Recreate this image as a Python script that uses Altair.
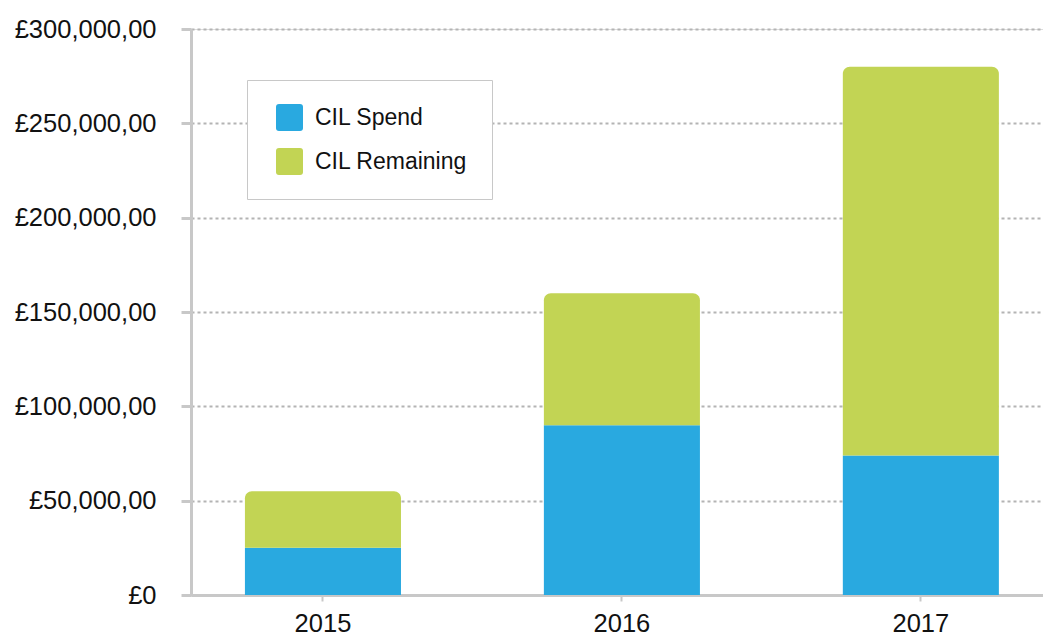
import altair as alt
import pandas as pd

years = ["2015", "2016", "2017"]
spend = [25000, 90000, 74000]
totals = [55000, 160000, 280000]
series_names = ["CIL Spend", "CIL Remaining"]
colors = ["#29A9E0", "#C2D454"]

rows = []
for yr, s, t in zip(years, spend, totals):
    rows.append({"year": yr, "series": "CIL Spend", "start": 0, "end": s})
    rows.append({"year": yr, "series": "CIL Remaining", "start": s, "end": t})
df = pd.DataFrame(rows)

FONT = "Liberation Sans"
ROUNDED_SQ = ("M-0.78,-1 H0.78 Q1,-1 1,-0.78 V0.78 Q1,1 0.78,1 H-0.78 "
              "Q-1,1 -1,0.78 V-0.78 Q-1,-1 -0.78,-1 Z")

x = alt.X("year:N", title=None,
          scale=alt.Scale(paddingInner=0.478, paddingOuter=0.164, align=0.55),
          axis=alt.Axis(labelAngle=0, labelFontSize=25.5, labelColor="#111", labelFont=FONT,
                        domainColor="#c8c8c8", domainWidth=3, tickColor="#c8c8c8",
                        tickWidth=2, tickSize=6, labelPadding=10, grid=False))
y = alt.Y("start:Q", title=None,
          scale=alt.Scale(domain=[0, 300000], nice=False),
          axis=alt.Axis(values=[0, 50000, 100000, 150000, 200000, 250000, 300000],
                        labelExpr="datum.value == 0 ? '£0' : '£' + format(datum.value, ',') + ',00'",
                        labelFontSize=25.5, labelColor="#111", labelFont=FONT,
                        domainColor="#c8c8c8", domainWidth=3, tickColor="#c8c8c8",
                        tickWidth=3, tickSize=10, labelPadding=25,
                        grid=True, gridColor="#b4b4b4", gridDash=[3, 3], gridWidth=2))
color = alt.Color("series:N", title=None,
                  scale=alt.Scale(domain=series_names, range=colors),
                  legend=alt.Legend(orient="none", legendX=56, legendY=51,
                                    padding=24, strokeColor="#c8c8c8", fillColor="white",
                                    symbolType=ROUNDED_SQ, symbolSize=729, symbolStrokeWidth=0,
                                    symbolOpacity=1, symbolOffset=5,
                                    labelFontSize=23, labelFont=FONT, labelColor="#111",
                                    labelOffset=12, rowPadding=17, labelLimit=400))

base = alt.Chart(df)
spend_layer = base.transform_filter("datum.series == 'CIL Spend'").mark_bar().encode(
    x=x, y=y, y2="end:Q", color=color)
rem_layer = base.transform_filter("datum.series == 'CIL Remaining'").mark_bar(
    cornerRadiusTopLeft=7, cornerRadiusTopRight=7).encode(
    x=x, y=y, y2="end:Q", color=color)

chart = alt.layer(spend_layer, rem_layer).properties(
    width=852, height=566,
    autosize=alt.AutoSizeParams(type="none"),
    padding={"left": 191, "top": 29, "right": 0, "bottom": 40},
).configure_view(stroke=None).configure(background="white")

chart.save("out.html", embed_options={"renderer": "svg", "actions": False})
